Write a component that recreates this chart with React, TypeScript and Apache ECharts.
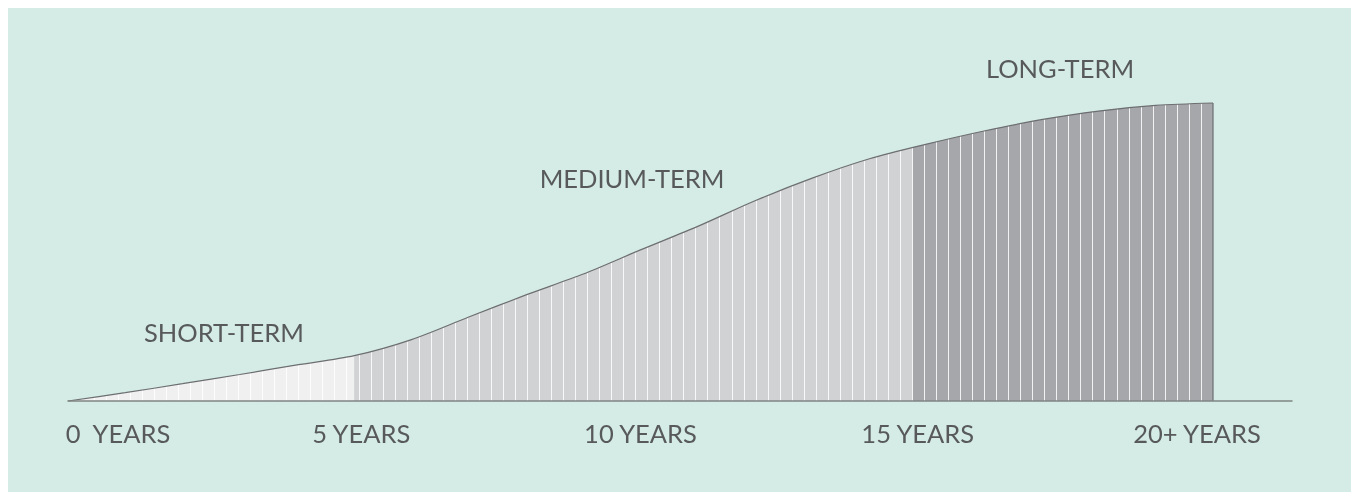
import React, { useEffect, useRef } from "react";
import * as echarts from "echarts";

// Curve: share of the final height reached at each year
const years = [0, 1, 2, 3, 4, 5, 6, 7, 8, 9, 10, 11, 12, 13, 14, 15, 16, 17, 18, 19, 20];
const growth = [0, 2.8, 5.8, 8.9, 12.1, 15.2, 20.6, 28.2, 35.6, 42.6, 50.7, 58.6, 67.2, 74.8, 81.3, 86.2, 90.6, 94.4, 97.3, 99.2, 100];

// Horizons
const segmentNames = ["SHORT-TERM", "MEDIUM-TERM", "LONG-TERM"];
const segmentStarts = [0, 5, 14.75];
const segmentEnds = [5, 14.75, 20];

// Axis tick labels
const tickYears = [0, 5, 10, 15, 20];
const tickLabels = ["0  YEARS", "5 YEARS", "10 YEARS", "15 YEARS", "20+ YEARS"];

// Number of vertical stripe intervals
const stripeCount = 94;

const MINT = "#d4ece5";
const TEXT = "#58595b";
const FONT = "Lato, 'Open Sans', sans-serif";
const FS = 25.5;
const segmentColors = ["#f0f0f0", "#d1d2d4", "#a6a7aa"];
const tickShift = [100, 14, 0, -18, -32];
const segmentLabelPos = [
  [224, 332],
  [632, 178],
  [1060, 68],
];

export default function App() {
  const ref = useRef<HTMLDivElement>(null);
  useEffect(() => {
    if (!ref.current) return;
    const chart = echarts.init(ref.current, null, { renderer: "svg" });
    const top = 103;
    const bottom = 91;
    const rich: Record<string, any> = {};
    tickShift.forEach((s, i) => {
      rich["t" + i] = {
        fontFamily: FONT,
        fontSize: FS,
        color: TEXT,
        padding: s >= 0 ? [0, 0, 0, s] : [0, -s, 0, 0],
      };
    });
    chart.setOption({
      animation: false,
      graphic: [
        {
          type: "rect",
          z: -10,
          silent: true,
          shape: { x: 8, y: 8, width: 1343, height: 484 },
          style: { fill: MINT },
        },
        ...segmentNames.map((name, i) => ({
          type: "text",
          z: 20,
          x: segmentLabelPos[i][0],
          y: segmentLabelPos[i][1],
          style: {
            text: name,
            fill: TEXT,
            font: `${FS}px ${FONT}`,
            textAlign: "center",
            textVerticalAlign: "middle",
          },
        })),
      ],
      grid: [
        { left: 68, right: 59, top, bottom },
        { left: 68, right: 138, top, bottom },
        { left: 70, right: 150, top, bottom },
      ],
      xAxis: [
        {
          gridIndex: 0,
          type: "value",
          min: 0,
          max: 21.38,
          z: 8,
          axisLine: { show: true, lineStyle: { color: "#7f8583", width: 1.5 } },
          axisTick: { show: false },
          splitLine: { show: false },
          axisLabel: {
            customValues: tickYears,
            margin: 19,
            fontFamily: FONT,
            fontSize: FS,
            color: TEXT,
            formatter: (v: number) => {
              const i = tickYears.indexOf(Math.round(v));
              return i >= 0 ? `{t${i}|${tickLabels[i]}}` : "";
            },
            rich,
          },
        },
        {
          gridIndex: 1,
          type: "value",
          min: years[0],
          max: years[years.length - 1],
          show: false,
        },
        {
          gridIndex: 2,
          type: "value",
          min: 0,
          max: stripeCount,
          interval: 1,
          z: 3,
          axisLine: { show: false },
          axisTick: { show: false },
          axisLabel: { show: false },
          splitLine: { show: true, lineStyle: { color: "rgba(255,255,255,0.85)", width: 1 } },
        },
      ],
      yAxis: [
        { gridIndex: 0, type: "value", min: 0, max: 100, show: false },
        { gridIndex: 1, type: "value", min: 0, max: 100, show: false },
        { gridIndex: 2, type: "value", min: 0, max: 100, show: false },
      ],
      series: [
        {
          name: "bands",
          type: "line",
          xAxisIndex: 1,
          yAxisIndex: 1,
          z: 1,
          symbol: "none",
          silent: true,
          lineStyle: { opacity: 0 },
          data: years.map((y, i) => [y, growth[i]]),
          markArea: {
            silent: true,
            z: 1,
            data: segmentNames.map((_, i) => [
              { xAxis: segmentStarts[i], yAxis: 0, itemStyle: { color: segmentColors[i] } },
              { xAxis: segmentEnds[i], yAxis: 100 },
            ]),
          },
        },
        {
          name: "curve",
          type: "line",
          xAxisIndex: 1,
          yAxisIndex: 1,
          z: 5,
          clip: false,
          smooth: 0.3,
          symbol: "none",
          silent: true,
          lineStyle: { color: "#6d6e71", width: 1.2 },
          areaStyle: { color: MINT, opacity: 1, origin: "end" },
          data: years.map((y, i) => [y, growth[i]]),
        },
        {
          name: "edge",
          type: "line",
          xAxisIndex: 1,
          yAxisIndex: 1,
          z: 6,
          clip: false,
          symbol: "none",
          silent: true,
          lineStyle: { color: "#6d6e71", width: 1.2 },
          data: [
            [years[years.length - 1], 0],
            [years[years.length - 1], growth[growth.length - 1]],
          ],
        },
      ],
    });
    return () => chart.dispose();
  }, []);
  return (
    <div
      ref={ref}
      style={{ position: "fixed", left: 0, top: 0, width: 1351, height: 492 }}
    />
  );
}
